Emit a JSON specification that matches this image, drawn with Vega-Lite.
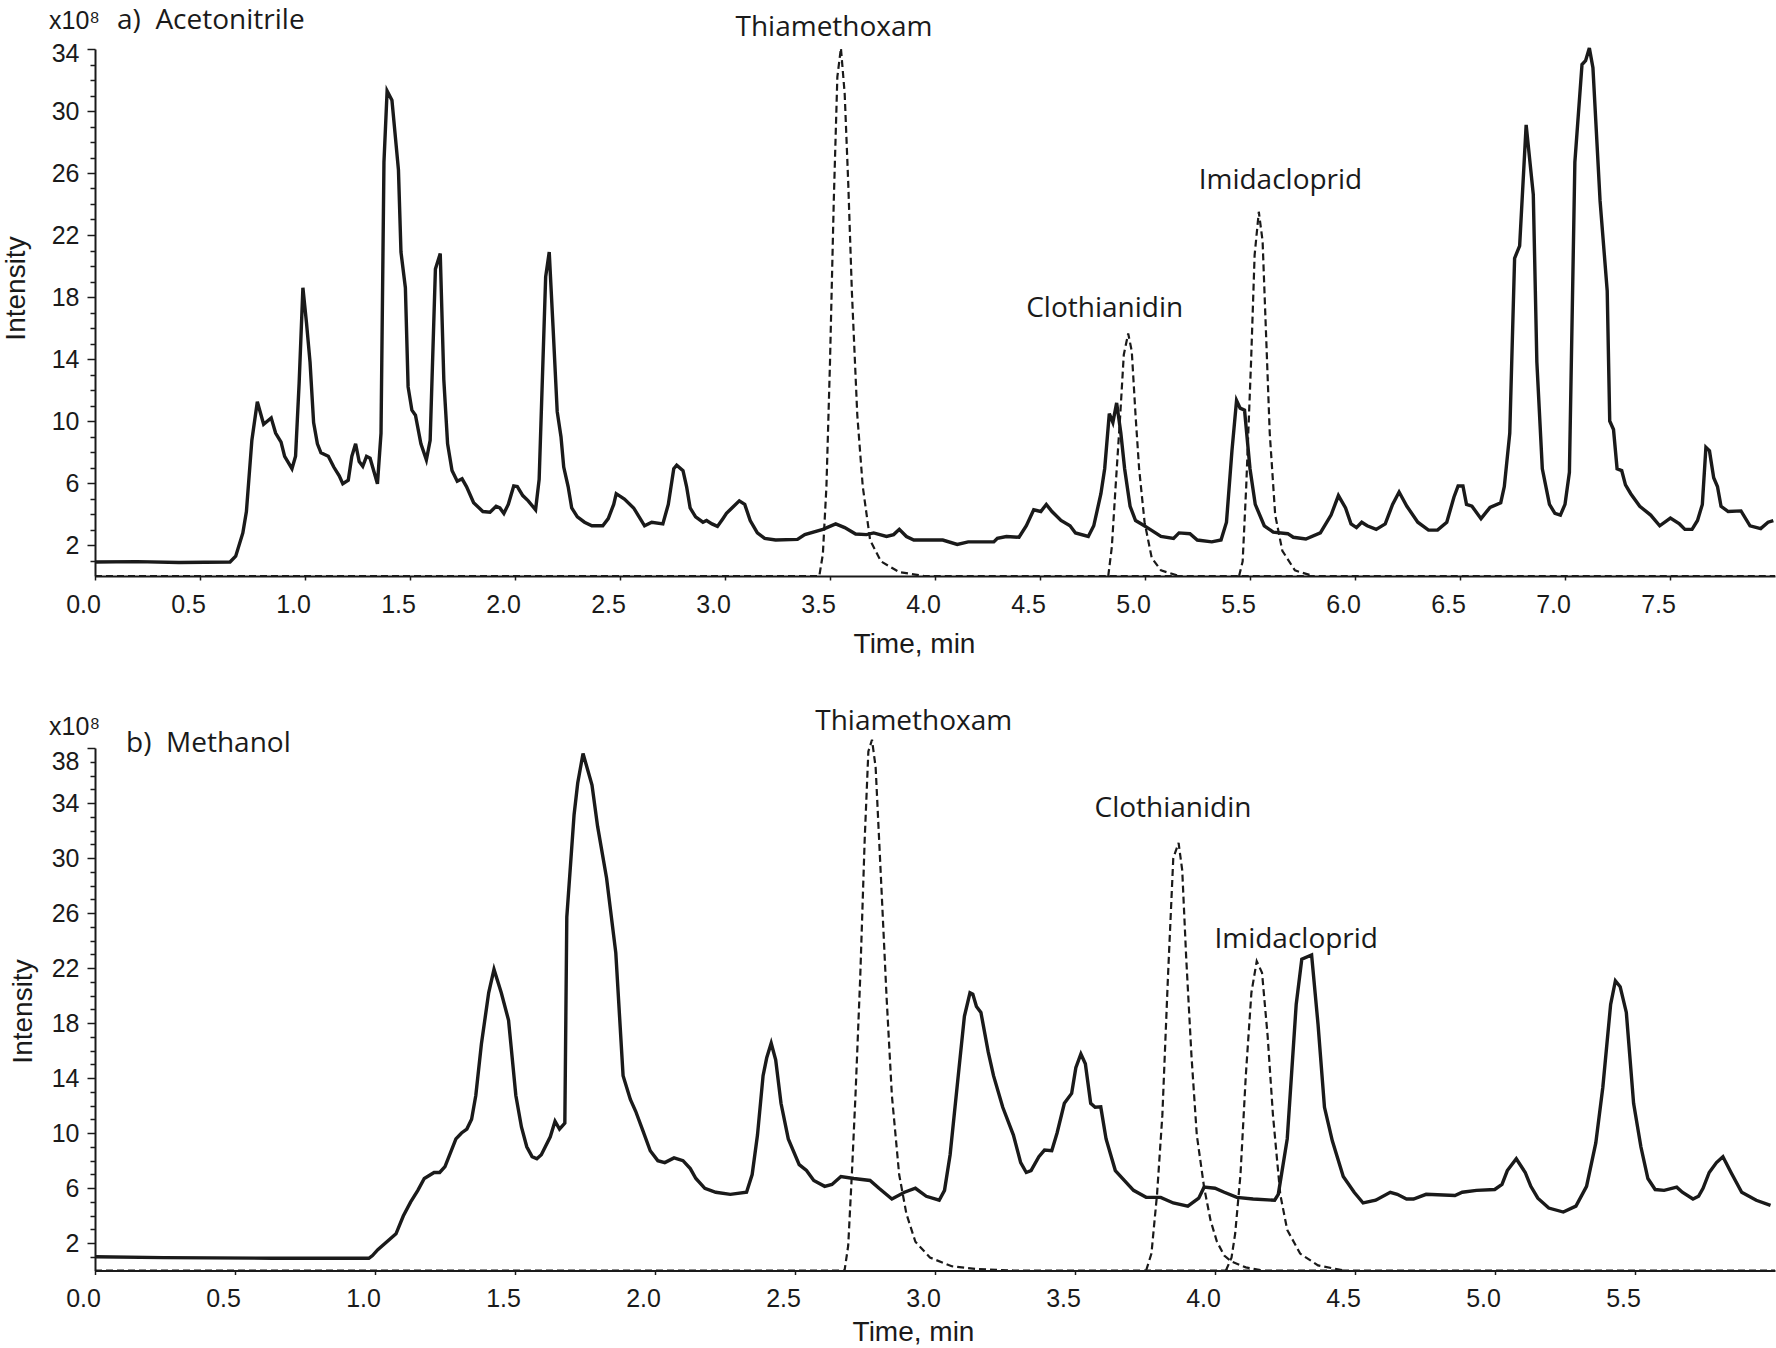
{
  "$schema": "https://vega.github.io/schema/vega-lite/v6.json",
  "background": "white",
  "padding": {"left": 2, "top": 7, "right": 0, "bottom": 0},
  "config": {
    "view": {"stroke": null},
    "axis": {
      "grid": false,
      "domainColor": "#1a1a1a",
      "domainWidth": 2,
      "tickColor": "#1a1a1a",
      "tickWidth": 1.5,
      "labelColor": "#1a1a1a",
      "titleColor": "#1a1a1a",
      "labelFont": "Liberation Sans",
      "titleFont": "Liberation Sans",
      "labelFontSize": 25,
      "titleFontSize": 28,
      "titleFontWeight": "normal",
      "labelFlush": false,
      "labelOverlap": false,
      "labelBound": false
    }
  },
  "datasets": {
    "a_solid": [
      {"t":0,"v":0.9},{"t":0.2,"v":0.93},{"t":0.4,"v":0.87},{"t":0.643,"v":0.9},{"t":0.67,"v":1.28},{"t":0.704,"v":2.78},{"t":0.721,"v":4.16},{"t":0.747,"v":8.76},{"t":0.773,"v":11.24},{"t":0.803,"v":9.79},{"t":0.839,"v":10.2},{"t":0.86,"v":9.22},{"t":0.886,"v":8.64},{"t":0.903,"v":7.72},{"t":0.938,"v":6.92},{"t":0.955,"v":7.72},{"t":0.972,"v":12.43},{"t":0.99,"v":18.6},{"t":1.007,"v":16.35},{"t":1.024,"v":13.8},{"t":1.041,"v":9.9},{"t":1.059,"v":8.53},{"t":1.076,"v":7.95},{"t":1.111,"v":7.72},{"t":1.137,"v":7.03},{"t":1.163,"v":6.46},{"t":1.18,"v":5.95},{"t":1.206,"v":6.18},{"t":1.223,"v":7.72},{"t":1.241,"v":8.53},{"t":1.258,"v":7.38},{"t":1.275,"v":7.08},{"t":1.293,"v":7.72},{"t":1.31,"v":7.6},{"t":1.345,"v":5.95},{"t":1.362,"v":9.22},{"t":1.376,"v":26.7},{"t":1.391,"v":31.3},{"t":1.414,"v":30.7},{"t":1.445,"v":26.2},{"t":1.457,"v":20.9},{"t":1.478,"v":18.6},{"t":1.491,"v":12.2},{"t":1.509,"v":10.7},{"t":1.526,"v":10.37},{"t":1.552,"v":8.53},{"t":1.578,"v":7.49},{"t":1.596,"v":8.76},{"t":1.621,"v":19.8},{"t":1.644,"v":20.8},{"t":1.661,"v":12.67},{"t":1.679,"v":8.53},{"t":1.7,"v":6.8},{"t":1.725,"v":6.11},{"t":1.748,"v":6.27},{"t":1.769,"v":5.77},{"t":1.803,"v":4.73},{"t":1.847,"v":4.16},{"t":1.881,"v":4.11},{"t":1.91,"v":4.5},{"t":1.928,"v":4.39},{"t":1.947,"v":4.04},{"t":1.968,"v":4.62},{"t":1.994,"v":5.81},{"t":2.011,"v":5.77},{"t":2.037,"v":5.19},{"t":2.063,"v":4.85},{"t":2.098,"v":4.27},{"t":2.115,"v":6.23},{"t":2.146,"v":19.3},{"t":2.163,"v":20.9},{"t":2.181,"v":16.1},{"t":2.201,"v":10.6},{"t":2.219,"v":8.99},{"t":2.232,"v":7.03},{"t":2.253,"v":5.77},{"t":2.27,"v":4.39},{"t":2.297,"v":3.81},{"t":2.331,"v":3.47},{"t":2.366,"v":3.24},{"t":2.418,"v":3.24},{"t":2.444,"v":3.7},{"t":2.47,"v":4.62},{"t":2.482,"v":5.31},{"t":2.521,"v":4.96},{"t":2.565,"v":4.39},{"t":2.591,"v":3.81},{"t":2.617,"v":3.24},{"t":2.651,"v":3.47},{"t":2.704,"v":3.36},{"t":2.73,"v":4.62},{"t":2.756,"v":6.92},{"t":2.77,"v":7.15},{"t":2.8,"v":6.8},{"t":2.817,"v":5.77},{"t":2.834,"v":4.39},{"t":2.86,"v":3.81},{"t":2.895,"v":3.47},{"t":2.912,"v":3.58},{"t":2.938,"v":3.36},{"t":2.964,"v":3.2},{"t":2.99,"v":3.7},{"t":3.007,"v":4.04},{"t":3.033,"v":4.39},{"t":3.068,"v":4.85},{"t":3.094,"v":4.62},{"t":3.12,"v":3.58},{"t":3.154,"v":2.78},{"t":3.189,"v":2.43},{"t":3.241,"v":2.32},{"t":3.345,"v":2.36},{"t":3.38,"v":2.67},{"t":3.466,"v":3.01},{"t":3.527,"v":3.36},{"t":3.57,"v":3.12},{"t":3.622,"v":2.71},{"t":3.674,"v":2.67},{"t":3.708,"v":2.78},{"t":3.769,"v":2.55},{"t":3.803,"v":2.67},{"t":3.83,"v":3.01},{"t":3.864,"v":2.55},{"t":3.899,"v":2.32},{"t":4.037,"v":2.32},{"t":4.106,"v":2.04},{"t":4.158,"v":2.2},{"t":4.28,"v":2.2},{"t":4.297,"v":2.43},{"t":4.34,"v":2.55},{"t":4.4,"v":2.5},{"t":4.435,"v":3.24},{"t":4.47,"v":4.27},{"t":4.504,"v":4.16},{"t":4.53,"v":4.62},{"t":4.557,"v":4.16},{"t":4.6,"v":3.58},{"t":4.643,"v":3.24},{"t":4.669,"v":2.78},{"t":4.73,"v":2.55},{"t":4.756,"v":3.24},{"t":4.79,"v":5.31},{"t":4.808,"v":6.92},{"t":4.83,"v":10.48},{"t":4.847,"v":9.9},{"t":4.865,"v":11.17},{"t":4.885,"v":9.22},{"t":4.903,"v":6.92},{"t":4.929,"v":4.5},{"t":4.955,"v":3.58},{"t":4.989,"v":3.31},{"t":5.024,"v":3.01},{"t":5.076,"v":2.55},{"t":5.136,"v":2.43},{"t":5.162,"v":2.78},{"t":5.214,"v":2.73},{"t":5.249,"v":2.32},{"t":5.318,"v":2.2},{"t":5.362,"v":2.32},{"t":5.388,"v":3.47},{"t":5.414,"v":8.07},{"t":5.436,"v":11.33},{"t":5.453,"v":10.83},{"t":5.474,"v":10.7},{"t":5.5,"v":6.92},{"t":5.525,"v":4.62},{"t":5.568,"v":3.24},{"t":5.611,"v":2.83},{"t":5.68,"v":2.73},{"t":5.706,"v":2.5},{"t":5.766,"v":2.39},{"t":5.835,"v":2.78},{"t":5.886,"v":3.93},{"t":5.921,"v":5.19},{"t":5.955,"v":4.39},{"t":5.981,"v":3.36},{"t":6.007,"v":3.12},{"t":6.032,"v":3.47},{"t":6.058,"v":3.24},{"t":6.101,"v":3.01},{"t":6.144,"v":3.36},{"t":6.179,"v":4.62},{"t":6.21,"v":5.42},{"t":6.247,"v":4.5},{"t":6.299,"v":3.47},{"t":6.35,"v":2.96},{"t":6.393,"v":2.96},{"t":6.437,"v":3.47},{"t":6.471,"v":5.08},{"t":6.491,"v":5.81},{"t":6.514,"v":5.81},{"t":6.531,"v":4.62},{"t":6.557,"v":4.5},{"t":6.6,"v":3.7},{"t":6.643,"v":4.43},{"t":6.694,"v":4.73},{"t":6.711,"v":5.77},{"t":6.737,"v":9.22},{"t":6.76,"v":20.5},{"t":6.784,"v":21.3},{"t":6.815,"v":29.1},{"t":6.849,"v":24.6},{"t":6.866,"v":13.8},{"t":6.892,"v":6.92},{"t":6.926,"v":4.62},{"t":6.952,"v":4.04},{"t":6.978,"v":3.93},{"t":7.0,"v":4.62},{"t":7.021,"v":6.69},{"t":7.047,"v":26.7},{"t":7.081,"v":33.0},{"t":7.098,"v":33.25},{"t":7.116,"v":34.06},{"t":7.133,"v":32.8},{"t":7.167,"v":24.2},{"t":7.201,"v":18.4},{"t":7.213,"v":10.0},{"t":7.231,"v":9.45},{"t":7.248,"v":6.92},{"t":7.27,"v":6.8},{"t":7.288,"v":5.88},{"t":7.313,"v":5.31},{"t":7.356,"v":4.5},{"t":7.408,"v":3.93},{"t":7.451,"v":3.24},{"t":7.502,"v":3.74},{"t":7.545,"v":3.36},{"t":7.571,"v":3.01},{"t":7.605,"v":3.01},{"t":7.631,"v":3.58},{"t":7.654,"v":4.62},{"t":7.671,"v":8.3},{"t":7.688,"v":8.07},{"t":7.708,"v":6.34},{"t":7.726,"v":5.77},{"t":7.743,"v":4.5},{"t":7.777,"v":4.16},{"t":7.838,"v":4.2},{"t":7.881,"v":3.24},{"t":7.932,"v":3.06},{"t":7.967,"v":3.47},{"t":7.992,"v":3.58}
    ],
    "a_dash": [
      {"c":"Thiamethoxam","t":0,"v":0},{"c":"Thiamethoxam","t":3.449,"v":0},{"c":"Thiamethoxam","t":3.466,"v":1.4},{"c":"Thiamethoxam","t":3.483,"v":5.77},{"c":"Thiamethoxam","t":3.5,"v":13.8},{"c":"Thiamethoxam","t":3.518,"v":24.2},{"c":"Thiamethoxam","t":3.535,"v":32.2},{"c":"Thiamethoxam","t":3.552,"v":34.06},{"c":"Thiamethoxam","t":3.57,"v":31.1},{"c":"Thiamethoxam","t":3.587,"v":25.3},{"c":"Thiamethoxam","t":3.604,"v":18.4},{"c":"Thiamethoxam","t":3.63,"v":10.37},{"c":"Thiamethoxam","t":3.656,"v":5.77},{"c":"Thiamethoxam","t":3.691,"v":2.32},{"c":"Thiamethoxam","t":3.743,"v":0.94},{"c":"Thiamethoxam","t":3.83,"v":0.25},{"c":"Thiamethoxam","t":3.95,"v":0},{"c":"Thiamethoxam","t":8.0,"v":0},
      {"c":"Clothianidin","t":4.825,"v":0},{"c":"Clothianidin","t":4.842,"v":1.86},{"c":"Clothianidin","t":4.86,"v":5.77},{"c":"Clothianidin","t":4.882,"v":10.37},{"c":"Clothianidin","t":4.899,"v":14.28},{"c":"Clothianidin","t":4.92,"v":15.65},{"c":"Clothianidin","t":4.937,"v":14.5},{"c":"Clothianidin","t":4.955,"v":10.37},{"c":"Clothianidin","t":4.972,"v":6.92},{"c":"Clothianidin","t":4.998,"v":3.47},{"c":"Clothianidin","t":5.032,"v":1.17},{"c":"Clothianidin","t":5.076,"v":0.36},{"c":"Clothianidin","t":5.162,"v":0},
      {"c":"Imidacloprid","t":5.448,"v":0},{"c":"Imidacloprid","t":5.465,"v":0.94},{"c":"Imidacloprid","t":5.482,"v":5.77},{"c":"Imidacloprid","t":5.505,"v":13.8},{"c":"Imidacloprid","t":5.522,"v":20.7},{"c":"Imidacloprid","t":5.542,"v":23.5},{"c":"Imidacloprid","t":5.56,"v":21.6},{"c":"Imidacloprid","t":5.577,"v":15.4},{"c":"Imidacloprid","t":5.594,"v":9.22},{"c":"Imidacloprid","t":5.62,"v":3.93},{"c":"Imidacloprid","t":5.654,"v":1.63},{"c":"Imidacloprid","t":5.714,"v":0.36},{"c":"Imidacloprid","t":5.8,"v":0}
    ],
    "a_text": [
      {"kind":"peak","label":"Thiamethoxam","t":3.519,"v":34.84},
      {"kind":"peak","label":"Clothianidin","t":4.808,"v":16.69},
      {"kind":"peak","label":"Imidacloprid","t":5.645,"v":24.97},
      {"kind":"panel","label":"a)\u00a0\u00a0Acetonitrile","t":0.105,"v":35.29},
      {"kind":"scale","label":"x10⁸","t":-0.219,"v":35.29}
    ],
    "b_solid": [
      {"t":0,"v":1.0},{"t":0.245,"v":0.94},{"t":0.634,"v":0.89},{"t":0.978,"v":0.89},{"t":0.991,"v":1.09},{"t":1.01,"v":1.52},{"t":1.075,"v":2.67},{"t":1.101,"v":3.96},{"t":1.127,"v":4.97},{"t":1.153,"v":5.83},{"t":1.176,"v":6.69},{"t":1.211,"v":7.13},{"t":1.231,"v":7.13},{"t":1.25,"v":7.56},{"t":1.289,"v":9.57},{"t":1.309,"v":10.0},{"t":1.328,"v":10.29},{"t":1.345,"v":11.0},{"t":1.36,"v":12.73},{"t":1.38,"v":16.47},{"t":1.406,"v":20.2},{"t":1.425,"v":21.9},{"t":1.451,"v":20.2},{"t":1.477,"v":18.2},{"t":1.503,"v":12.73},{"t":1.523,"v":10.44},{"t":1.542,"v":9.0},{"t":1.561,"v":8.28},{"t":1.578,"v":8.13},{"t":1.594,"v":8.42},{"t":1.626,"v":9.72},{"t":1.643,"v":10.86},{"t":1.659,"v":10.29},{"t":1.678,"v":10.72},{"t":1.685,"v":25.7},{"t":1.711,"v":33.15},{"t":1.724,"v":35.45},{"t":1.743,"v":37.6},{"t":1.775,"v":35.3},{"t":1.795,"v":32.3},{"t":1.827,"v":28.55},{"t":1.86,"v":23.1},{"t":1.886,"v":14.17},{"t":1.912,"v":12.44},{"t":1.931,"v":11.58},{"t":1.957,"v":10.15},{"t":1.983,"v":8.71},{"t":2.01,"v":7.99},{"t":2.035,"v":7.85},{"t":2.068,"v":8.19},{"t":2.1,"v":7.99},{"t":2.126,"v":7.41},{"t":2.146,"v":6.69},{"t":2.178,"v":5.98},{"t":2.217,"v":5.69},{"t":2.269,"v":5.54},{"t":2.327,"v":5.69},{"t":2.347,"v":6.98},{"t":2.366,"v":9.85},{"t":2.386,"v":14.17},{"t":2.399,"v":15.47},{"t":2.415,"v":16.53},{"t":2.431,"v":15.32},{"t":2.45,"v":12.16},{"t":2.476,"v":9.57},{"t":2.515,"v":7.7},{"t":2.541,"v":7.27},{"t":2.567,"v":6.55},{"t":2.606,"v":6.12},{"t":2.632,"v":6.26},{"t":2.664,"v":6.84},{"t":2.71,"v":6.69},{"t":2.768,"v":6.55},{"t":2.8,"v":5.98},{"t":2.846,"v":5.2},{"t":2.891,"v":5.69},{"t":2.93,"v":5.98},{"t":2.969,"v":5.4},{"t":3.015,"v":5.11},{"t":3.034,"v":5.83},{"t":3.054,"v":8.42},{"t":3.086,"v":14.75},{"t":3.105,"v":18.49},{"t":3.125,"v":20.2},{"t":3.135,"v":20.1},{"t":3.148,"v":19.2},{"t":3.164,"v":18.77},{"t":3.19,"v":15.9},{"t":3.209,"v":14.17},{"t":3.242,"v":11.87},{"t":3.28,"v":9.85},{"t":3.306,"v":7.85},{"t":3.326,"v":7.13},{"t":3.343,"v":7.27},{"t":3.371,"v":8.28},{"t":3.391,"v":8.76},{"t":3.417,"v":8.71},{"t":3.436,"v":10.0},{"t":3.462,"v":12.16},{"t":3.488,"v":12.88},{"t":3.503,"v":14.75},{"t":3.521,"v":15.75},{"t":3.537,"v":15.03},{"t":3.556,"v":12.16},{"t":3.572,"v":11.87},{"t":3.592,"v":11.9},{"t":3.611,"v":9.57},{"t":3.644,"v":7.27},{"t":3.676,"v":6.55},{"t":3.709,"v":5.83},{"t":3.754,"v":5.32},{"t":3.806,"v":5.32},{"t":3.851,"v":4.91},{"t":3.903,"v":4.68},{"t":3.942,"v":5.26},{"t":3.961,"v":6.06},{"t":4.0,"v":5.98},{"t":4.033,"v":5.69},{"t":4.078,"v":5.32},{"t":4.136,"v":5.2},{"t":4.213,"v":5.11},{"t":4.226,"v":5.54},{"t":4.258,"v":9.57},{"t":4.29,"v":19.35},{"t":4.31,"v":22.65},{"t":4.345,"v":22.95},{"t":4.368,"v":17.9},{"t":4.391,"v":11.87},{"t":4.419,"v":9.43},{"t":4.458,"v":6.84},{"t":4.497,"v":5.69},{"t":4.529,"v":4.91},{"t":4.574,"v":5.11},{"t":4.626,"v":5.69},{"t":4.651,"v":5.54},{"t":4.684,"v":5.2},{"t":4.709,"v":5.2},{"t":4.754,"v":5.54},{"t":4.857,"v":5.45},{"t":4.883,"v":5.69},{"t":4.934,"v":5.83},{"t":4.999,"v":5.89},{"t":5.025,"v":6.26},{"t":5.044,"v":7.27},{"t":5.076,"v":8.13},{"t":5.108,"v":7.13},{"t":5.128,"v":6.12},{"t":5.153,"v":5.26},{"t":5.192,"v":4.54},{"t":5.244,"v":4.25},{"t":5.289,"v":4.68},{"t":5.327,"v":6.12},{"t":5.36,"v":9.28},{"t":5.385,"v":13.31},{"t":5.413,"v":19.35},{"t":5.43,"v":21.07},{"t":5.447,"v":20.64},{"t":5.469,"v":18.77},{"t":5.495,"v":12.16},{"t":5.521,"v":9.0},{"t":5.546,"v":6.69},{"t":5.572,"v":5.89},{"t":5.604,"v":5.83},{"t":5.649,"v":6.06},{"t":5.669,"v":5.69},{"t":5.707,"v":5.2},{"t":5.727,"v":5.4},{"t":5.743,"v":5.98},{"t":5.765,"v":7.13},{"t":5.791,"v":7.85},{"t":5.814,"v":8.28},{"t":5.843,"v":7.13},{"t":5.881,"v":5.69},{"t":5.933,"v":5.11},{"t":5.984,"v":4.74}
    ],
    "b_dash": [
      {"c":"Thiamethoxam","t":0,"v":0},{"c":"Thiamethoxam","t":2.677,"v":0},{"c":"Thiamethoxam","t":2.69,"v":1.8},{"c":"Thiamethoxam","t":2.703,"v":6.98},{"c":"Thiamethoxam","t":2.716,"v":12.73},{"c":"Thiamethoxam","t":2.733,"v":21.36},{"c":"Thiamethoxam","t":2.749,"v":31.4},{"c":"Thiamethoxam","t":2.762,"v":37.75},{"c":"Thiamethoxam","t":2.775,"v":38.6},{"c":"Thiamethoxam","t":2.788,"v":36.6},{"c":"Thiamethoxam","t":2.807,"v":28.55},{"c":"Thiamethoxam","t":2.827,"v":19.9},{"c":"Thiamethoxam","t":2.846,"v":12.73},{"c":"Thiamethoxam","t":2.872,"v":6.98},{"c":"Thiamethoxam","t":2.898,"v":4.11},{"c":"Thiamethoxam","t":2.93,"v":2.09},{"c":"Thiamethoxam","t":2.982,"v":0.94},{"c":"Thiamethoxam","t":3.06,"v":0.31},{"c":"Thiamethoxam","t":3.151,"v":0.1},{"c":"Thiamethoxam","t":3.28,"v":0},{"c":"Thiamethoxam","t":6.0,"v":0},
      {"c":"Clothianidin","t":3.754,"v":0},{"c":"Clothianidin","t":3.773,"v":1.23},{"c":"Clothianidin","t":3.793,"v":5.54},{"c":"Clothianidin","t":3.812,"v":11.3},{"c":"Clothianidin","t":3.832,"v":21.36},{"c":"Clothianidin","t":3.851,"v":29.99},{"c":"Clothianidin","t":3.87,"v":31.1},{"c":"Clothianidin","t":3.883,"v":29.1},{"c":"Clothianidin","t":3.897,"v":22.8},{"c":"Clothianidin","t":3.916,"v":15.6},{"c":"Clothianidin","t":3.935,"v":9.85},{"c":"Clothianidin","t":3.961,"v":6.06},{"c":"Clothianidin","t":3.984,"v":3.65},{"c":"Clothianidin","t":4.007,"v":2.09},{"c":"Clothianidin","t":4.033,"v":1.08},{"c":"Clothianidin","t":4.059,"v":0.65},{"c":"Clothianidin","t":4.11,"v":0.23},{"c":"Clothianidin","t":4.17,"v":0},
      {"c":"Imidacloprid","t":4.039,"v":0},{"c":"Imidacloprid","t":4.059,"v":0.94},{"c":"Imidacloprid","t":4.072,"v":2.67},{"c":"Imidacloprid","t":4.091,"v":6.98},{"c":"Imidacloprid","t":4.11,"v":14.17},{"c":"Imidacloprid","t":4.13,"v":20.2},{"c":"Imidacloprid","t":4.149,"v":22.5},{"c":"Imidacloprid","t":4.168,"v":21.65},{"c":"Imidacloprid","t":4.188,"v":17.05},{"c":"Imidacloprid","t":4.207,"v":11.3},{"c":"Imidacloprid","t":4.233,"v":5.54},{"c":"Imidacloprid","t":4.258,"v":2.95},{"c":"Imidacloprid","t":4.304,"v":1.23},{"c":"Imidacloprid","t":4.368,"v":0.37},{"c":"Imidacloprid","t":4.46,"v":0}
    ],
    "b_text": [
      {"kind":"peak","label":"Thiamethoxam","t":2.924,"v":39.33},
      {"kind":"peak","label":"Clothianidin","t":3.85,"v":33.0},
      {"kind":"peak","label":"Imidacloprid","t":4.29,"v":23.43},
      {"kind":"panel","label":"b)\u00a0\u00a0Methanol","t":0.111,"v":37.73},
      {"kind":"scale","label":"x10⁸","t":-0.164,"v":38.95}
    ]
  },
  "vconcat": [
    {
      "width": 1680,
      "height": 527,
      "encoding": {
        "x": {
          "field": "t", "type": "quantitative",
          "scale": {"domain": [0, 8], "nice": false, "zero": false},
          "axis": {
            "title": "Time, min",
            "values": [0,0.5,1,1.5,2,2.5,3,3.5,4,4.5,5,5.5,6,6.5,7,7.5],
            "format": ".1f",
            "tickSize": 4,
            "labelOffset": -12,
            "labelBaseline": "alphabetic",
            "labelPadding": 32,
            "titleX": 819,
            "titleY": 76,
            "titleBaseline": "alphabetic",
            "titleAlign": "center"
          }
        },
        "y": {
          "field": "v", "type": "quantitative",
          "scale": {"domain": [0, 34], "nice": false, "zero": true},
          "axis": {
            "title": "Intensity",
            "values": [1,2,3,4,5,6,7,8,9,10,11,12,13,14,15,16,17,18,19,20,21,22,23,24,25,26,27,28,29,30,31,32,33,34],
            "labelExpr": "(datum.value - 2) % 4 === 0 ? datum.label : ''",
            "tickSize": {"condition": {"test": "(datum.value - 2) % 4 === 0", "value": 8}, "value": 5},
            "labelOffset": {"condition": {"test": "datum.value === 34", "value": 4}, "value": 0},
            "labelPadding": 8,
            "labelBaseline": "middle",
            "titleX": -71,
            "titleY": 239,
            "titleAngle": -90,
            "titleBaseline": "alphabetic",
            "titleAlign": "center"
          }
        }
      },
      "layer": [
        {
          "data": {"name": "a_dash"},
          "mark": {"type": "line", "color": "#1a1a1a", "strokeWidth": 2.2, "strokeDash": [7, 4]},
          "encoding": {"detail": {"field": "c", "type": "nominal"}}
        },
        {
          "data": {"name": "a_solid"},
          "mark": {"type": "line", "color": "#1a1a1a", "strokeWidth": 3.4, "strokeJoin": "miter"}
        },
        {
          "data": {"name": "a_text"},
          "transform": [{"filter": "datum.kind === 'peak'"}],
          "mark": {"type": "text", "font": "Open Sans", "fontSize": 28, "align": "center", "baseline": "alphabetic", "color": "#1a1a1a"},
          "encoding": {"text": {"field": "label", "type": "nominal"}}
        },
        {
          "data": {"name": "a_text"},
          "transform": [{"filter": "datum.kind === 'panel'"}],
          "mark": {"type": "text", "font": "Open Sans", "fontSize": 28, "align": "left", "baseline": "alphabetic", "color": "#1a1a1a"},
          "encoding": {"text": {"field": "label", "type": "nominal"}}
        },
        {
          "data": {"name": "a_text"},
          "transform": [{"filter": "datum.kind === 'scale'"}],
          "mark": {"type": "text", "font": "Liberation Sans", "fontSize": 25, "align": "left", "baseline": "alphabetic", "color": "#1a1a1a"},
          "encoding": {"text": {"field": "label", "type": "nominal"}}
        }
      ]
    },
    {
      "width": 1680,
      "height": 522.5,
      "encoding": {
        "x": {
          "field": "t", "type": "quantitative",
          "scale": {"domain": [0, 6], "nice": false, "zero": false},
          "axis": {
            "title": "Time, min",
            "values": [0,0.5,1,1.5,2,2.5,3,3.5,4,4.5,5,5.5],
            "format": ".1f",
            "tickSize": 4,
            "labelOffset": -12,
            "labelBaseline": "alphabetic",
            "labelPadding": 32,
            "titleX": 818,
            "titleY": 70,
            "titleBaseline": "alphabetic",
            "titleAlign": "center"
          }
        },
        "y": {
          "field": "v", "type": "quantitative",
          "scale": {"domain": [0, 38], "nice": false, "zero": true},
          "axis": {
            "title": "Intensity",
            "values": [1,2,3,4,5,6,7,8,9,10,11,12,13,14,15,16,17,18,19,20,21,22,23,24,25,26,27,28,29,30,31,32,33,34,35,36,37,38],
            "labelExpr": "(datum.value - 2) % 4 === 0 ? datum.label : ''",
            "tickSize": {"condition": {"test": "(datum.value - 2) % 4 === 0", "value": 8}, "value": 5},
            "labelOffset": {"condition": {"test": "datum.value === 38", "value": 13}, "value": 0},
            "labelPadding": 8,
            "labelBaseline": "middle",
            "titleX": -64,
            "titleY": 263,
            "titleAngle": -90,
            "titleBaseline": "alphabetic",
            "titleAlign": "center"
          }
        }
      },
      "layer": [
        {
          "data": {"name": "b_dash"},
          "mark": {"type": "line", "color": "#1a1a1a", "strokeWidth": 2.2, "strokeDash": [7, 4]},
          "encoding": {"detail": {"field": "c", "type": "nominal"}}
        },
        {
          "data": {"name": "b_solid"},
          "mark": {"type": "line", "color": "#1a1a1a", "strokeWidth": 3.4, "strokeJoin": "miter"}
        },
        {
          "data": {"name": "b_text"},
          "transform": [{"filter": "datum.kind === 'peak'"}],
          "mark": {"type": "text", "font": "Open Sans", "fontSize": 28, "align": "center", "baseline": "alphabetic", "color": "#1a1a1a"},
          "encoding": {"text": {"field": "label", "type": "nominal"}}
        },
        {
          "data": {"name": "b_text"},
          "transform": [{"filter": "datum.kind === 'panel'"}],
          "mark": {"type": "text", "font": "Open Sans", "fontSize": 28, "align": "left", "baseline": "alphabetic", "color": "#1a1a1a"},
          "encoding": {"text": {"field": "label", "type": "nominal"}}
        },
        {
          "data": {"name": "b_text"},
          "transform": [{"filter": "datum.kind === 'scale'"}],
          "mark": {"type": "text", "font": "Liberation Sans", "fontSize": 25, "align": "left", "baseline": "alphabetic", "color": "#1a1a1a"},
          "encoding": {"text": {"field": "label", "type": "nominal"}}
        }
      ]
    }
  ],
  "spacing": 172,
  "bounds": "flush"
}
